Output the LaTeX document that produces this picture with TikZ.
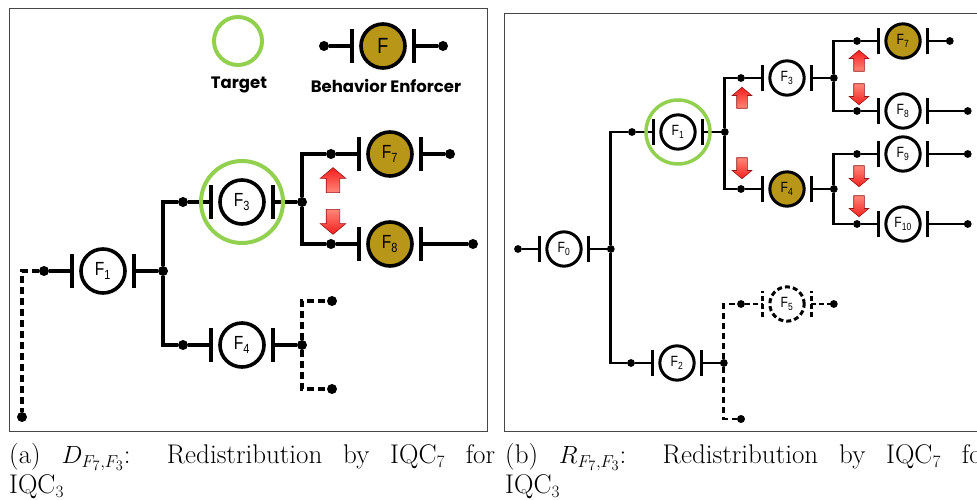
\documentclass[tikz,border=0pt]{standalone}
\usepackage{fontspec}
\usepackage{xcolor}
\usepackage{tikz}
\usetikzlibrary{shapes.arrows,positioning}
\newfontfamily\legendfont{Poppins}
\newfontfamily\flabelfont[FakeStretch=0.82]{Liberation Sans}
\definecolor{enforcer}{RGB}{184,150,24}
\definecolor{targetgreen}{RGB}{146,208,80}
\definecolor{arrowred}{RGB}{245,30,30}
\definecolor{arrowpink}{RGB}{255,135,120}
\definecolor{arrowedge}{RGB}{150,20,20}
\definecolor{framegray}{RGB}{70,70,70}
\newcommand{\foutpos}{60}
\tikzstyle{wire} = [line width=3.2pt]
\tikzstyle{rwire} = [wire, line width=2.8pt]
\tikzstyle{open} = [dash pattern=on 7pt off 4pt]
\tikzstyle{bar} = [line width=3.8pt]
\tikzstyle{dot} = [circle, fill=black, inner sep=0pt, minimum size=10pt]
\tikzstyle{fcirc} = [circle, draw=black, line width=3.6pt, minimum size=44pt,
    inner sep=0pt, font=\flabelfont\fontsize{19}{19}\selectfont]
\tikzstyle{enf} = [fcirc/.append style={fill=enforcer}]
\tikzstyle{rsmall} = [scale=0.78, transform shape, fcirc/.append style={line width=3pt},
    wire/.append style={line width=2.8pt}, bar/.append style={line width=3.2pt}]
\tikzstyle{target} = [circle, draw=targetgreen, line width=4pt, inner sep=0pt]
\tikzstyle{legend} = [font=\legendfont\bfseries\fontsize{16.5}{16.5}\selectfont, inner sep=0pt, anchor=base]
\tikzstyle{caption} = [font=\fontsize{27}{30}\selectfont, align=left, inner sep=0pt, anchor=north west]
\tikzstyle{moveup} = [single arrow, draw=arrowedge, line width=0.6pt, shape border rotate=90,
    inner sep=6.5pt, minimum height=25pt, single arrow head extend=6pt,
    single arrow tip angle=100, top color=arrowred, bottom color=arrowpink]
\tikzstyle{movedown} = [moveup, shape border rotate=270, top color=arrowpink, bottom color=arrowred]
\tikzstyle{smallmove} = [inner sep=5pt, minimum height=21pt, single arrow head extend=4.5pt]
\tikzset{
  fout/.code={\renewcommand{\foutpos}{#1}},
  fcomp/.pic={
    \node[fcirc] (-c) at (0,0) {#1};
    \node[dot] (-in) at (-59,0) {};
    \node[dot] (-out) at (\foutpos,0) {};
    \draw[bar] (-31,-17) -- (-31,17);
    \draw[bar] (31,-17) -- (31,17);
    \draw[wire] (-in) -- (-31,0);
    \draw[wire] (31,0) -- (-out);
  }
}

\begin{document}
\begin{tikzpicture}[x=1pt, y=1pt]
\useasboundingbox (0,0) rectangle (977,500);
% Frames
\draw[framegray, line width=0.8pt] (9,69) rectangle (487,492);
\draw[framegray, line width=0.8pt] (504,69) rectangle (990,487);
% Legend
\node[target, minimum size=48pt] (legtgt) at (238,459) {};
\node[legend] (legtgtlbl) at (239,411) {Target};
\pic[enf] (leg) at (383,454) {fcomp={\fontsize{22}{22}\selectfont F}};
\node[legend] (legenflbl) at (386,407) {Behavior Enforcer};
% Left tree
\pic (l1) at (103,229) {fcomp=F\textsubscript{1}};
\pic (l3) at (242,298) {fcomp=F\textsubscript{3}};
\pic (l4) at (242,155) {fcomp=F\textsubscript{4}};
\pic[enf] (l7) at (390,346) {fcomp=F\textsubscript{7}};
\pic[enf, fout=83] (l8) at (390,256) {fcomp=F\textsubscript{8}};
\node[target, minimum size=82pt] (tgta) at (l3-c) {};
\node[dot] (lend) at (22,83) {};
\node[dot] (lopen1) at (332,199) {};
\node[dot] (lopen2) at (332,111) {};
\draw[wire] (l1-out) |- (l3-in);
\draw[wire] (l1-out) |- (l4-in);
\draw[wire] (l3-out) |- (l7-in);
\draw[wire] (l3-out) |- (l8-in);
\draw[wire, open] (l1-in) -| (lend);
\draw[wire, open] (l4-out) |- (lopen1);
\draw[wire, open] (l4-out) |- (lopen2);
\node[moveup] (amu) at (333,317) {};
\node[movedown] (amd) at (333,281) {};
% Right tree
\pic[rsmall] (r0) at (564,251) {fcomp=F\textsubscript{0}};
\pic[rsmall] (r1) at (678,368) {fcomp=F\textsubscript{1}};
\pic[rsmall] (r2) at (677,137) {fcomp=F\textsubscript{2}};
\pic[rsmall] (r3) at (787,422) {fcomp=F\textsubscript{3}};
\pic[rsmall, enf] (r4) at (787,311) {fcomp=F\textsubscript{4}};
\pic[rsmall, dashed, dash pattern=on 5pt off 3pt] (r5) at (787,196) {fcomp=F\textsubscript{5}};
\pic[rsmall, enf] (r7) at (903,459) {fcomp=F\textsubscript{7}};
\pic[rsmall, fout=83] (r8) at (903,389) {fcomp=F\textsubscript{8}};
\pic[rsmall, fout=83] (r9) at (903,346) {fcomp=F\textsubscript{9}};
\pic[rsmall, fout=83] (r10) at (903,276) {fcomp=F\textsubscript{10}};
\node[target, minimum size=64pt, line width=3.5pt] (tgtb) at (r1-c) {};
\node[dot, minimum size=8pt] (rend) at (741,81) {};
\draw[rwire] (r0-out) |- (r1-in);
\draw[rwire] (r0-out) |- (r2-in);
\draw[rwire] (r1-out) |- (r3-in);
\draw[rwire] (r1-out) |- (r4-in);
\draw[rwire] (r3-out) |- (r7-in);
\draw[rwire] (r3-out) |- (r8-in);
\draw[rwire] (r4-out) |- (r9-in);
\draw[rwire] (r4-out) |- (r10-in);
\draw[rwire, dash pattern=on 6pt off 4pt] (r2-out) |- (r5-in);
\draw[rwire, dash pattern=on 6pt off 4pt] (r2-out) |- (rend);
\node[moveup, smallmove] (bmu1) at (742,400) {};
\node[movedown, smallmove] (bmd1) at (742,334) {};
\node[moveup, smallmove] (bmu2) at (859,437) {};
\node[movedown, smallmove] (bmd2) at (859,408) {};
\node[movedown, smallmove] (bmd3) at (859,326) {};
\node[movedown, smallmove] (bmd4) at (859,296) {};
% Captions
\node[caption] (capa) at (9,57) {\makebox[486pt][s]{(a) $D_{F_7,F_3}$: Redistribution by IQC$_7$ for}\\IQC$_3$};
\node[caption] (capb) at (505,57) {\makebox[486pt][s]{(b) $R_{F_7,F_3}$: Redistribution by IQC$_7$ for}\\IQC$_3$};
\end{tikzpicture}
\end{document}
